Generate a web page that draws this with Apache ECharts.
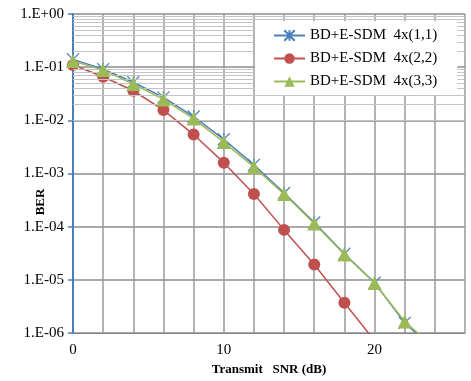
<!DOCTYPE html>
<html>
<head>
<meta charset="utf-8">
<script src="https://cdn.jsdelivr.net/npm/echarts@6/dist/echarts.min.js"></script>
<style>
  html, body { margin: 0; padding: 0; background: #fff; }
  #chart { width: 471px; height: 381px; }
</style>
</head>
<body>
<div id="chart"></div>
<script>
// transmit SNR (dB)
const snr = [0, 2, 4, 6, 8, 10, 12, 14, 16, 18, 20, 22, 24];

const ber11 = [0.14, 0.092, 0.052, 0.027, 0.0118, 0.0044, 0.00145, 0.00043, 0.00012, 3.1e-5, 8.8e-6, 1.55e-6, 4.8e-7];
const ber22 = [0.11, 0.066, 0.036, 0.0156, 0.0054, 0.0016, 0.00041, 8.7e-5, 1.95e-5, 3.7e-6, 7.2e-7];
const ber33 = [0.13, 0.088, 0.048, 0.0247, 0.0108, 0.0039, 0.00133, 0.00041, 0.000115, 3.0e-5, 8.7e-6, 1.65e-6, 5.2e-7];

const seriesNames = ['BD+E-SDM  4x(1,1)', 'BD+E-SDM  4x(2,2)', 'BD+E-SDM  4x(3,3)'];

const BLUE = '#4A7EBB';
const RED = '#C0504D';
const GREEN = '#9BBB59';
const FONT = '"Liberation Serif", "Times New Roman", serif';

// minor log grid lines (2..9 in each decade)
const minorLines = [];
for (let e = -6; e < 0; e++) {
    for (let m = 2; m <= 9; m++) {
        minorLines.push({ yAxis: m * Math.pow(10, e) });
    }
}

const pairs = (ys) => ys.map((y, i) => [snr[i], y]);

const chart = echarts.init(document.getElementById('chart'));

chart.setOption({
    animation: false,
    grid: { left: 73, right: 6, top: 14, bottom: 48 },
    legend: {
        data: seriesNames,
        orient: 'vertical',
        left: 255,
        top: 21,
        padding: [7, 20, 6, 18],
        backgroundColor: '#fff',
        itemWidth: 31,
        itemHeight: 13,
        itemGap: 8,
        z: 50,
        zlevel: 1,
        textStyle: { fontFamily: FONT, fontSize: 15, color: '#000' },
    },
    xAxis: {
        type: 'value',
        min: 0,
        max: 26,
        interval: 2,
        name: 'Transmit   SNR (dB)',
        nameLocation: 'middle',
        nameGap: 30,
        nameTextStyle: { fontFamily: FONT, fontSize: 13, fontWeight: 'bold', color: '#000' },
        axisLine: { lineStyle: { color: '#868686', width: 1 } },
        axisTick: { show: false },
        axisLabel: {
            fontFamily: FONT,
            fontSize: 15,
            color: '#000',
            margin: 10,
            formatter: (v) => (v % 10 === 0 ? String(v) : ''),
        },
        splitLine: { show: true, lineStyle: { color: '#9a9a9a', width: 1.5 } },
    },
    yAxis: {
        type: 'log',
        logBase: 10,
        min: 1e-6,
        max: 1,
        axisLine: { show: true, lineStyle: { color: BLUE, width: 2 } },
        axisTick: { show: true, length: 5, lineStyle: { color: BLUE, width: 1.5 } },
        axisLabel: {
            fontFamily: FONT,
            fontSize: 15,
            color: '#000',
            margin: 9,
            formatter: (v) => {
                const e = Math.round(Math.log10(v));
                const a = Math.abs(e);
                return '1.E' + (e >= 0 ? '+' : '-') + (a < 10 ? '0' : '') + a;
            },
        },
        splitLine: { show: true, lineStyle: { color: '#8c8c8c', width: 1.5 } },
    },
    graphic: [
        {
            type: 'text',
            x: 41,
            y: 202,
            rotation: Math.PI / 2,
            style: {
                text: 'BER',
                fontFamily: FONT,
                fontSize: 13,
                fontWeight: 'bold',
                fill: '#000',
                align: 'center',
                verticalAlign: 'middle',
            },
        },
    ],
    series: [
        {
            name: 'minor',
            type: 'line',
            data: [],
            silent: true,
            z: 1,
            markLine: {
                silent: true,
                symbol: 'none',
                label: { show: false },
                lineStyle: { type: 'solid', color: '#c4c4c4', width: 1 },
                emphasis: { disabled: true },
                data: minorLines,
            },
        },
        {
            name: seriesNames[0],
            type: 'line',
            data: pairs(ber11),
            symbol: 'path://M0,0L10,10M10,0L0,10M5,0L5,10',
            symbolSize: 12,
            itemStyle: { color: BLUE, borderColor: BLUE, borderWidth: 1.2 },
            lineStyle: { color: BLUE, width: 1.5 },
            z: 3,
        },
        {
            name: seriesNames[1],
            type: 'line',
            data: pairs(ber22),
            symbol: 'circle',
            symbolSize: 12,
            itemStyle: { color: RED, borderColor: RED, borderWidth: 0 },
            lineStyle: { color: RED, width: 1.5 },
            z: 4,
        },
        {
            name: seriesNames[2],
            type: 'line',
            data: pairs(ber33),
            symbol: 'triangle',
            symbolSize: 14,
            itemStyle: { color: GREEN, borderWidth: 0 },
            lineStyle: { color: GREEN, width: 1.5 },
            z: 5,
        },
    ],
});
</script>
</body>
</html>
